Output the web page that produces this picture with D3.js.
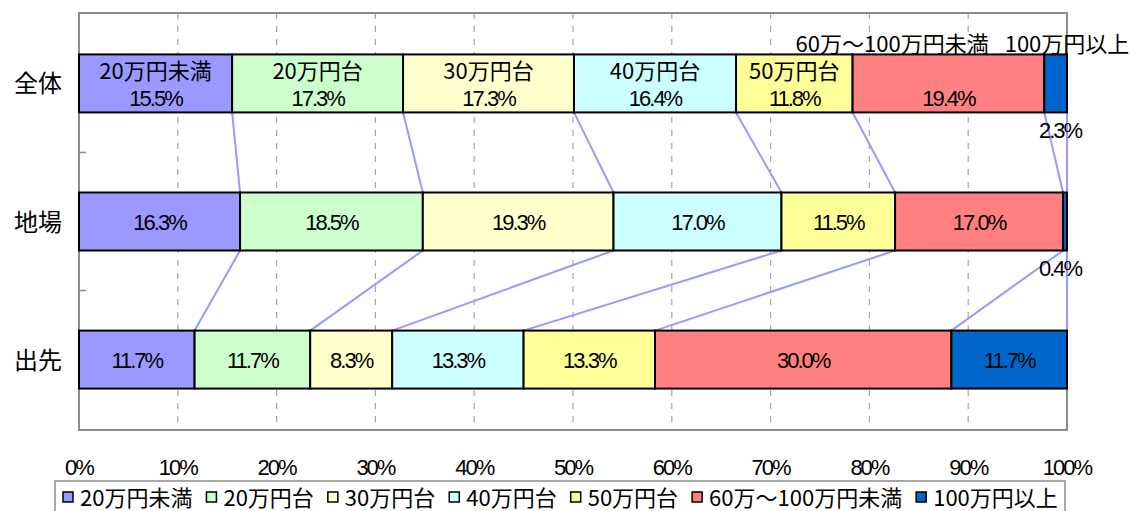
<!DOCTYPE html>
<html>
<head>
<meta charset="utf-8" />
<title>所得階層別構成比</title>
<script src="https://d3js.org/d3.v7.min.js"></script>
<style>
  body { margin: 0; background: #fff; }
  .num { font-family: "Liberation Sans", Arial, sans-serif; font-size: 22px; letter-spacing: -2px; }
  .jp { font-family: "Noto Sans CJK JP", sans-serif; font-size: 22px; }
</style>
</head>
<body>
<script>
// data
var categories = ["全体", "地場", "出先"];
var seriesNames = ["20万円未満", "20万円台", "30万円台", "40万円台", "50万円台", "60万～100万円未満", "100万円以上"];
var colors = ["#9999ff", "#ccffcc", "#ffffcc", "#ccffff", "#ffff99", "#ff8080", "#0066cc"];
var zentai = [15.5, 17.3, 17.3, 16.4, 11.8, 19.4, 2.3];
var jiba   = [16.3, 18.5, 19.3, 17.0, 11.5, 17.0, 0.4];
var desaki = [11.7, 11.7, 8.3, 13.3, 13.3, 30.0, 11.7];
var tickValues = [0, 10, 20, 30, 40, 50, 60, 70, 80, 90, 100];

var rows = [zentai, jiba, desaki];

var W = 1131, H = 511;
var plot = {left: 79, right: 1067, top: 13, bottom: 430};

var svg = d3.select("body").append("svg")
    .attr("width", W)
    .attr("height", H);

var x = d3.scaleLinear().domain([0, 100]).range([plot.left, plot.right]);
var y = d3.scaleBand()
    .domain(categories)
    .range([plot.top, plot.bottom])
    .paddingInner(0.58)
    .paddingOuter(0.3);

// stacked segments
var stacked = rows.map(function(vals, i) {
  var acc = 0;
  return vals.map(function(v, j) {
    var s = {cat: categories[i], row: i, idx: j, v: v, x0: acc, x1: acc + v};
    acc += v;
    return s;
  });
});

// dashed gridlines
svg.append("g").selectAll("line")
  .data(tickValues.slice(1, -1))
  .enter().append("line")
    .attr("x1", function(d) { return x(d); })
    .attr("x2", function(d) { return x(d); })
    .attr("y1", plot.top)
    .attr("y2", plot.bottom)
    .attr("stroke", "#a6a6a6")
    .attr("stroke-width", 1.2)
    .attr("stroke-dasharray", "6,7");

// frame
svg.append("rect")
  .attr("x", plot.left).attr("y", plot.top)
  .attr("width", plot.right - plot.left)
  .attr("height", plot.bottom - plot.top)
  .attr("fill", "none")
  .attr("stroke", "#8c8c8c")
  .attr("stroke-width", 2);

// small ticks on the left axis between categories
var between = [];
for (var i = 0; i < categories.length - 1; i++) {
  between.push((y(categories[i]) + y.bandwidth() + y(categories[i + 1])) / 2);
}
svg.append("g").selectAll("line")
  .data(between)
  .enter().append("line")
    .attr("x1", plot.left).attr("x2", plot.left + 7)
    .attr("y1", function(d) { return d; })
    .attr("y2", function(d) { return d; })
    .attr("stroke", "#8c8c8c")
    .attr("stroke-width", 1.5);

// series lines between bars
var links = [];
for (var i = 0; i < rows.length - 1; i++) {
  for (var j = 0; j < seriesNames.length; j++) {
    links.push({a: stacked[i][j].x1, b: stacked[i + 1][j].x1,
                ya: y(categories[i]) + y.bandwidth(), yb: y(categories[i + 1])});
  }
}
svg.append("g").selectAll("line")
  .data(links)
  .enter().append("line")
    .attr("x1", function(d) { return x(d.a); })
    .attr("x2", function(d) { return x(d.b); })
    .attr("y1", function(d) { return d.ya; })
    .attr("y2", function(d) { return d.yb; })
    .attr("stroke", "#9999ff")
    .attr("stroke-width", 2);

// bars
svg.append("g").selectAll("g")
  .data(stacked)
  .enter().append("g")
  .selectAll("rect")
  .data(function(d) { return d; })
  .enter().append("rect")
    .attr("x", function(d) { return x(d.x0); })
    .attr("y", function(d) { return y(d.cat); })
    .attr("width", function(d) { return x(d.x1) - x(d.x0); })
    .attr("height", y.bandwidth())
    .attr("fill", function(d) { return colors[d.idx]; })
    .attr("stroke", "#000")
    .attr("stroke-width", 2);

// bar labels
var lab = svg.append("g");
stacked.forEach(function(segs, i) {
  var top = y(categories[i]), bw = y.bandwidth(), mid = top + bw / 2;
  segs.forEach(function(s) {
    var cx = (x(s.x0) + x(s.x1)) / 2;
    var txt = s.v.toFixed(1) + "%";
    if (s.v < 5) {
      // too thin: value under the bar
      lab.append("text").attr("class", "num")
        .attr("x", x(s.x1) - 7).attr("y", top + bw + 26)
        .attr("text-anchor", "middle").text(txt);
    } else if (i === 0) {
      lab.append("text").attr("class", "num")
        .attr("x", cx).attr("y", mid + 23)
        .attr("text-anchor", "middle").text(txt);
    } else {
      lab.append("text").attr("class", "num")
        .attr("x", cx).attr("y", mid + 8)
        .attr("text-anchor", "middle").text(txt);
    }
  });
  if (i === 0) {
    // series names on the first bar
    var last = segs.length - 1;
    var lastName = lab.append("text").attr("class", "jp")
      .attr("x", x(100)).attr("y", top - 2)
      .attr("text-anchor", "middle").text(seriesNames[last]);
    var lw = lastName.node().getComputedTextLength();
    segs.forEach(function(s) {
      if (s.idx === last) return;
      if (s.idx === last - 1) {
        lab.append("text").attr("class", "jp")
          .attr("x", x(100) - lw / 2 - 16).attr("y", top - 2)
          .attr("text-anchor", "end").text(seriesNames[s.idx]);
      } else {
        lab.append("text").attr("class", "jp")
          .attr("x", (x(s.x0) + x(s.x1)) / 2).attr("y", mid - 4)
          .attr("text-anchor", "middle").text(seriesNames[s.idx]);
      }
    });
  }
});

// category labels
svg.append("g").selectAll("text")
  .data(categories)
  .enter().append("text")
    .attr("x", 62)
    .attr("y", function(d) { return y(d) + y.bandwidth() / 2 + 9; })
    .attr("text-anchor", "end")
    .style("font-family", "Noto Sans CJK JP, sans-serif")
    .style("font-size", "24px")
    .text(function(d) { return d; });

// x tick labels
svg.append("g").selectAll("text")
  .data(tickValues)
  .enter().append("text")
    .attr("class", "num")
    .attr("x", function(d) { return x(d); })
    .attr("y", 475)
    .attr("text-anchor", "middle")
    .text(function(d) { return d + "%"; });

// legend
var legend = svg.append("g");
legend.append("rect")
  .attr("x", 55).attr("y", 481)
  .attr("width", 1010).attr("height", 40)
  .attr("fill", "#fff")
  .attr("stroke", "#8c8c8c")
  .attr("stroke-width", 1.5);
var lx = 63;
seriesNames.forEach(function(n, j) {
  legend.append("rect")
    .attr("x", lx).attr("y", 492)
    .attr("width", 10).attr("height", 10)
    .attr("fill", colors[j])
    .attr("stroke", "#000")
    .attr("stroke-width", 1.5);
  var t = legend.append("text")
    .attr("x", lx + 17).attr("y", 506)
    .style("font-family", "Noto Sans CJK JP, sans-serif")
    .style("font-size", "22px")
    .text(n);
  lx += 17 + t.node().getComputedTextLength() + 14;
});
</script>
</body>
</html>
